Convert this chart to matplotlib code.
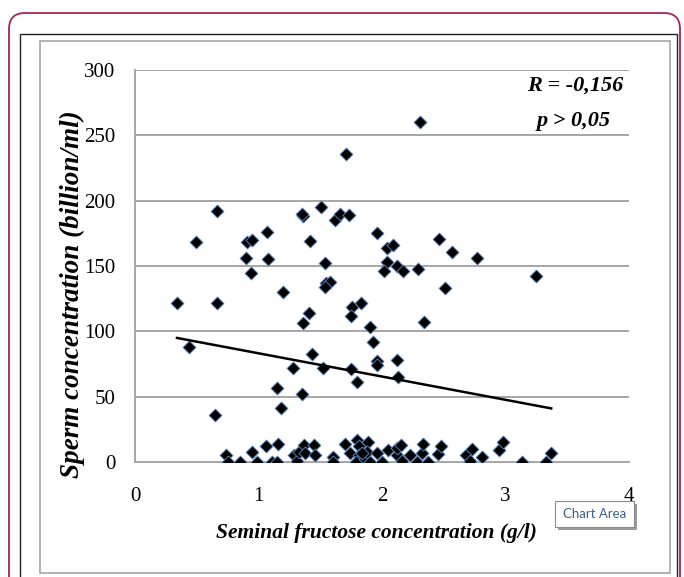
import matplotlib
matplotlib.use('Agg')
import matplotlib.pyplot as plt
from matplotlib.patches import FancyBboxPatch, Rectangle
import numpy as np

# seminal fructose (g/l) vs sperm concentration (billion/ml)
fructose = [0.34, 0.44, 0.49, 0.66, 0.66, 0.65, 0.91, 0.95, 0.90, 0.94,
            1.07, 1.08, 1.20, 1.71, 1.51, 1.36, 1.35, 1.62, 1.66, 1.73,
            1.42, 1.96, 2.04, 2.09, 1.54, 1.55, 1.58, 1.54, 2.04, 2.02,
            2.12, 2.17, 2.29, 2.31, 2.46, 2.57, 2.77, 3.25, 2.51, 2.34,
            1.93, 1.96, 1.96, 2.12, 2.13, 1.90, 1.41, 1.36, 1.76, 1.83,
            1.75, 1.43, 1.28, 1.52, 1.75, 1.80, 1.15, 1.35, 1.18,
            0.74, 0.75, 0.85, 0.95, 0.99, 1.06, 1.16, 1.11, 1.15, 1.29,
            1.31, 1.33, 1.37, 1.38, 1.45, 1.46, 1.60, 1.60, 1.70, 1.74,
            1.80, 1.81, 1.81, 1.79, 1.86, 1.89, 1.88, 1.90, 1.96, 2.05,
            2.12, 2.12, 2.15, 2.16, 2.23, 2.28, 2.32, 2.33, 2.37, 2.45,
            2.48, 2.68, 2.71, 2.73, 2.81, 2.95, 2.98, 3.13, 3.33, 3.37,
            2.00, 1.84]
sperm = [122, 88, 168, 192, 122, 36, 168, 170, 156, 145,
         176, 155, 130, 236, 195, 188, 190, 185, 190, 189,
         169, 175, 164, 166, 152, 137, 138, 134, 153, 146,
         150, 146, 148, 260, 171, 161, 156, 142, 133, 107,
         92, 77, 74, 78, 65, 103, 114, 106, 119, 122,
         112, 83, 72, 72, 71, 61, 57, 52, 41,
         5, 0, 0, 8, 0, 12, 14, 0, 0, 5,
         1, 8, 13, 7, 13, 5, 4, 0, 14, 7,
         17, 12, 5, 0, 2, 15, 8, 0, 7, 9,
         5, 11, 13, 1, 5, 0, 7, 14, 0, 6,
         12, 5, 1, 10, 4, 9, 15, 0, 0, 7,
         0, 7]

# linear trendline as shown
trend_intercept = 101.0
trend_slope = -17.8

x_ticks = [0, 1, 2, 3, 4]
y_ticks = [0, 50, 100, 150, 200, 250, 300]

W, H = 684, 577


def fx(px):
    return px / W


def fy(py):
    return 1 - py / H


fig = plt.figure(figsize=(W / 100, H / 100), dpi=100)

# page decorations (rounded border, image border, chart area)
fig.patches.append(FancyBboxPatch((9 / 100, (H - 640) / 100), 671 / 100, 627 / 100,
                                  boxstyle='round,pad=0,rounding_size=0.16',
                                  transform=fig.dpi_scale_trans, fill=False,
                                  edgecolor='#a3264f', linewidth=1.3))
fig.patches.append(Rectangle((fx(20), fy(620)), fx(677) - fx(20), fy(34) - fy(620),
                             transform=fig.transFigure, fill=False,
                             edgecolor='#222222', linewidth=1.0))
fig.patches.append(Rectangle((fx(40), fy(573)), fx(670) - fx(40), fy(41) - fy(573),
                             transform=fig.transFigure, fill=False,
                             edgecolor='#a6a6a6', linewidth=1.2))

ax = fig.add_axes([fx(135), fy(462), fx(629) - fx(135), fy(70) - fy(462)])
ax.set_xlim(0, 4)
ax.set_ylim(0, 300)
ax.set_yticks(y_ticks)
ax.set_xticks(x_ticks)
ax.grid(axis='y', color='#a6a6a6', linewidth=1.4)
ax.set_axisbelow(True)
for side in ['top', 'right']:
    ax.spines[side].set_visible(False)
for side in ['left', 'bottom']:
    ax.spines[side].set_color('#a6a6a6')
    ax.spines[side].set_linewidth(1.4)
ax.tick_params(length=0, labelsize=15)
ax.tick_params(axis='x', pad=18)
ax.tick_params(axis='y', pad=14)
for lab in ax.get_xticklabels() + ax.get_yticklabels():
    lab.set_fontfamily('Liberation Serif')

ax.scatter(fructose, sperm, marker='D', s=44, color='black',
           edgecolors='#5b8fd0', linewidths=0.6, zorder=3)

xs = np.array([min(fructose), max(fructose)])
ax.plot(xs, trend_intercept + trend_slope * xs, color='black', linewidth=1.8, zorder=4)

fig.text(fx(575), fy(86), 'R = -0,156', ha='center', va='center',
         fontsize=16, fontweight='bold', fontstyle='italic', family='Liberation Serif')
fig.text(fx(574), fy(121), 'p > 0,05', ha='center', va='center',
         fontsize=16, fontweight='bold', fontstyle='italic', family='Liberation Serif')

fig.text(fx(376), fy(533), 'Seminal fructose concentration (g/l)', ha='center', va='center',
         fontsize=15.5, fontweight='bold', fontstyle='italic', family='Liberation Serif')
fig.text(fx(72), fy(294), 'Sperm concentration (billion/ml)', ha='center', va='center',
         rotation=90, fontsize=19.5, fontweight='bold', fontstyle='italic',
         family='Liberation Serif')

# "Chart Area" tooltip
fig.patches.append(Rectangle((fx(558), fy(530)), fx(634) - fx(555), fy(501) - fy(527),
                             transform=fig.transFigure, facecolor='#9a9a9a',
                             edgecolor='none', zorder=5))
fig.patches.append(Rectangle((fx(555), fy(527)), fx(634) - fx(555), fy(501) - fy(527),
                             transform=fig.transFigure, facecolor='white',
                             edgecolor='#8a8a8a', linewidth=0.8, zorder=6))
fig.text(fx(594.5), fy(514.5), 'Chart Area', ha='center', va='center', fontsize=9.5,
         color='#3f5f8f', family='Lato', zorder=7)

plt.savefig('out.png', dpi=100)
plt.close(fig)
